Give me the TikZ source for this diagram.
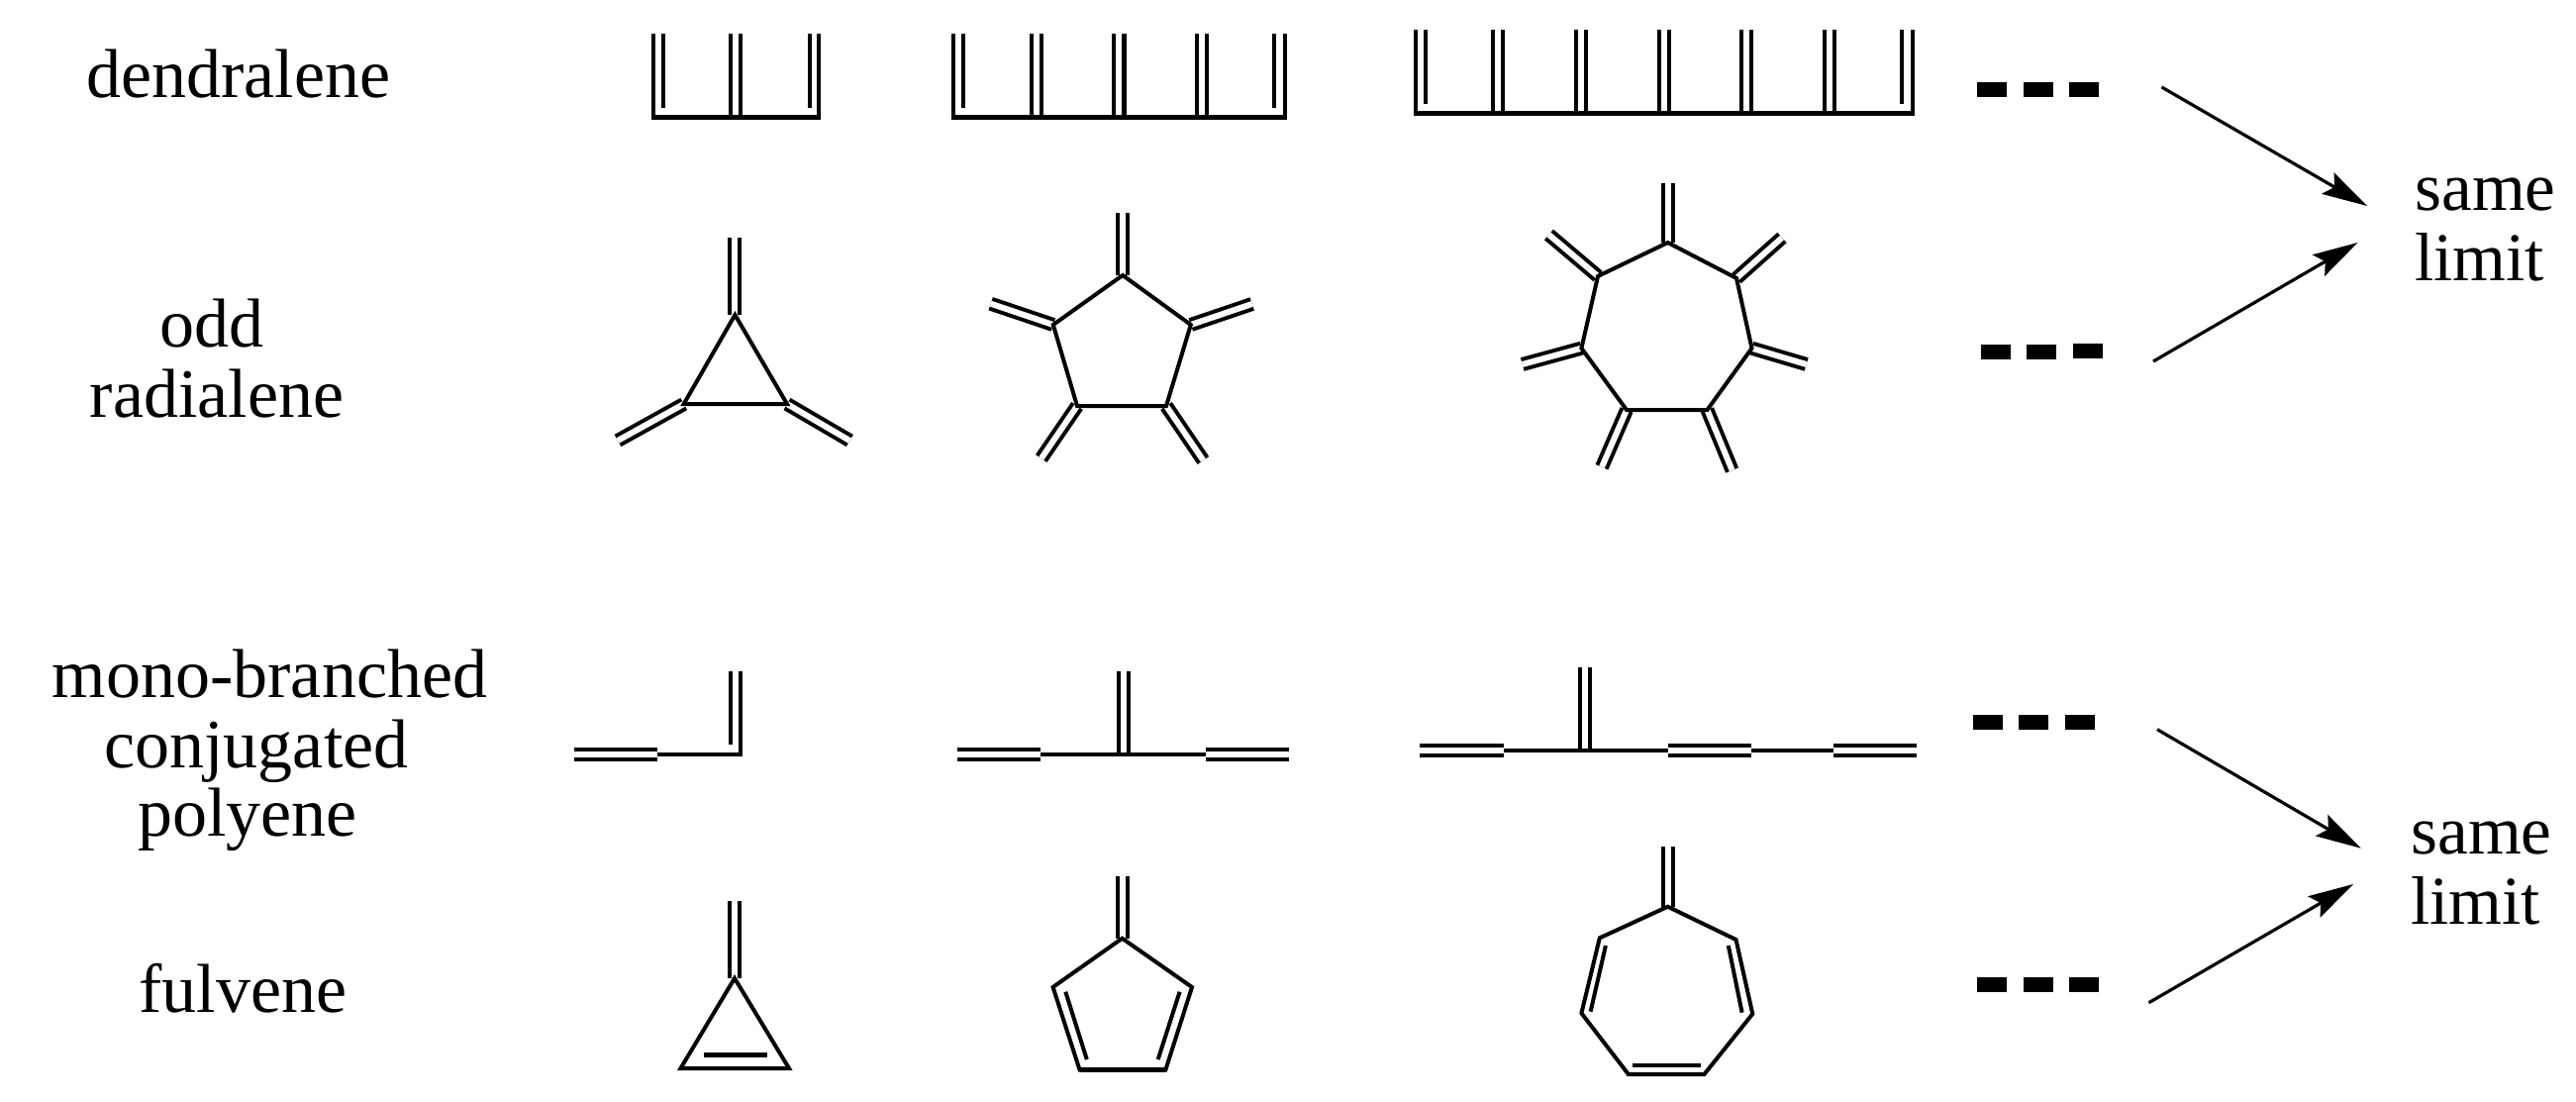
\documentclass[tikz,border=0pt]{standalone}
\usepackage{fontspec}
\setmainfont{Liberation Serif}
\usetikzlibrary{arrows.meta}
\tikzset{
  bond/.style={line width=2pt,line join=miter},
  base/.style={line width=2.4pt,line join=miter},
  dbl/.style={double,double distance=3pt,line width=2pt},
  dbh/.style={double,double distance=3pt,line width=2.3pt},
  lab/.style={anchor=base,inner sep=0pt,font=\fontsize{35}{35}\selectfont},
  lim/.style={anchor=base west,inner sep=0pt,font=\fontsize{34.6}{35}\selectfont},
  dot/.style={fill=black,draw=none,inner sep=0pt,minimum width=15pt,minimum height=7.5pt},
  arr/.style={line width=1.6pt,-{Stealth[length=23pt,width=12.5pt,inset=4pt,line width=0pt]}}
}
\begin{document}
\begin{tikzpicture}[x=0.5pt,y=-0.5pt]
\useasboundingbox (0,0) rectangle (2602,1113);
% labels
\node[lab] (l1) at (241,98) {dendralene};
\node[lab] (l2a) at (214,350) {odd};
\node[lab] (l2b) at (219,421) {radialene};
\node[lab] (l3a) at (272.5,704) {mono-branched};
\node[lab] (l3b) at (259,775) {conjugated};
\node[lab] (l3c) at (250,844) {polyene};
\node[lab] (l4) at (245.5,1022) {fulvene};
\node[lim] (s1a) at (2439,213) {same};
\node[lim] (s1b) at (2439,283) {limit};
\node[lim] (s2a) at (2435,862) {same};
\node[lim] (s2b) at (2435,933) {limit};
% dots
\foreach \n/\x/\y in {a/2012/90.5,b/2059/90.5,c/2105/90.5,d/2016/355,e/2062/355,f/2109/354,g/2007.5/729,h/2054/729,i/2100.5/729,j/2012/994,k/2059/994,m/2105/994}
  \node[dot] (dot\n) at (\x,\y) {};
% arrows
\coordinate (a1s) at (2183.5,88); \coordinate (a1e) at (2391,208);
\coordinate (a2s) at (2175,365); \coordinate (a2e) at (2381.6,245);
\coordinate (a3s) at (2179,736.7); \coordinate (a3e) at (2384.7,856.7);
\coordinate (a4s) at (2170.5,1012.7); \coordinate (a4e) at (2377,893);
\draw[arr] (a1s) -- (a1e);
\draw[arr] (a2s) -- (a2e);
\draw[arr] (a3s) -- (a3e);
\draw[arr] (a4s) -- (a4e);
% dendralene 1
\foreach \x in {743} \draw[dbl] (\x,34) -- (\x,118);
\draw[bond] (660,34) -- (660,118.3) -- (827,118.3) -- (827,34);
\draw[base] (658,118.3) -- (829,118.3);
\draw[bond] (669.5,34) -- (669.5,108.7);
\draw[bond] (817.6,34) -- (817.6,108.7);
% dendralene 2
\foreach \x in {1047.3,1214.3} \draw[dbl] (\x,34) -- (\x,118);
\draw[dbh] (1130.3,34) -- (1130.3,118);
\draw[bond] (963,34) -- (963,118.3) -- (1298,118.3) -- (1298,34);
\draw[base] (961,118.3) -- (1300,118.3);
\draw[bond] (973,34) -- (973,108.7);
\draw[bond] (1286.6,34) -- (1286.6,108.7);
% dendralene 3
\foreach \x in {1513.3,1597,1680.7,1763.8,1847.6} \draw[dbl] (\x,30) -- (\x,114);
\draw[bond] (1430,30) -- (1430,114.7) -- (1932,114.7) -- (1932,30);
\draw[base] (1428,114.7) -- (1934,114.7);
\draw[bond] (1440,30) -- (1440,104.7);
\draw[bond] (1921,30) -- (1921,104.7);
% triradialene
\coordinate (t1) at (742.4,318); \coordinate (t2) at (795,408); \coordinate (t3) at (690.7,408);
\coordinate (t1x) at (742.4,240); \coordinate (t2x) at (858.3,445); \coordinate (t3x) at (624,445);
\foreach \i in {1,2,3} \draw[dbl] (t\i) -- (t\i x);
\draw[bond] (t1) -- (t2) -- (t3) -- cycle;
\draw[base] (t2) -- (t3);
% pentaradialene
\coordinate (p1) at (1134,278); \coordinate (p2) at (1202.8,328); \coordinate (p3) at (1178,410); \coordinate (p4) at (1088,410); \coordinate (p5) at (1063.8,328);
\coordinate (p1x) at (1134,215); \coordinate (p2x) at (1264.7,307); \coordinate (p3x) at (1215.4,465); \coordinate (p4x) at (1051.8,463); \coordinate (p5x) at (1000.7,306.7);
\foreach \i in {1,...,5} \draw[dbl] (p\i) -- (p\i x);
\draw[bond] (p1) -- (p2) -- (p3) -- (p4) -- (p5) -- cycle;
\draw[base] (p3) -- (p4);
% heptaradialene
\coordinate (h1) at (1684.6,245); \coordinate (h2) at (1754,281); \coordinate (h3) at (1769.5,351.7); \coordinate (h4) at (1724.4,414); \coordinate (h5) at (1643,414); \coordinate (h6) at (1597.4,351.7); \coordinate (h7) at (1614,279);
\coordinate (h1x) at (1684.6,185); \coordinate (h2x) at (1800,240); \coordinate (h3x) at (1824.6,368); \coordinate (h4x) at (1749.6,475); \coordinate (h5x) at (1618,471.7); \coordinate (h6x) at (1537.7,368); \coordinate (h7x) at (1564.5,237);
\foreach \i in {1,...,7} \draw[dbl] (h\i) -- (h\i x);
\draw[bond] (h1) -- (h2) -- (h3) -- (h4) -- (h5) -- (h6) -- (h7) -- cycle;
\draw[base] (h4) -- (h5);
% mono-branched 1
\draw[dbl] (580,762) -- (664,762);
\draw[bond] (664,762) -- (747.8,762) -- (747.8,678);
\draw[bond] (738,678) -- (738,751.7);
% mono-branched 2
\draw[dbl] (967,762) -- (1051,762);
\draw[dbl] (1218,762) -- (1302,762);
\draw[dbl] (1134.7,678) -- (1134.7,762);
\draw[bond] (1051,762) -- (1218,762);
% mono-branched 3
\draw[dbl] (1433.7,757.7) -- (1518.6,757.7);
\draw[dbl] (1684.6,757.7) -- (1768.8,757.7);
\draw[dbl] (1852,757.7) -- (1935.6,757.7);
\draw[dbl] (1601,674) -- (1601,757.7);
\draw[bond] (1518.6,757.7) -- (1684.6,757.7);
\draw[bond] (1768.8,757.7) -- (1852,757.7);
% fulvene 1
\coordinate (f1) at (742,988); \coordinate (f2) at (797,1079); \coordinate (f3) at (687.5,1079); \coordinate (f1x) at (742,910);
\draw[dbl] (f1) -- (f1x);
\draw[bond] (f1) -- (f2) -- (f3) -- cycle;
\draw[base] (f2) -- (f3);
\draw[base] (711,1065.3) -- (774.8,1065.3);
% fulvene 2
\coordinate (g1) at (1133.5,947.7); \coordinate (g2) at (1204,997); \coordinate (g3) at (1177.3,1080.7); \coordinate (g4) at (1090.6,1080.7); \coordinate (g5) at (1063.6,997); \coordinate (g1x) at (1133.5,885);
\draw[dbl] (g1) -- (g1x);
\draw[bond] (g1) -- (g2) -- (g3) -- (g4) -- (g5) -- cycle;
\draw[base] (g3) -- (g4);
\draw[bond] (1076.3,1001.7) -- (1097.8,1070);
\draw[bond] (1191.6,1001.7) -- (1169.7,1070);
% fulvene 3
\coordinate (k1) at (1684.6,915.7); \coordinate (k2) at (1753.5,949); \coordinate (k3) at (1770.3,1024); \coordinate (k4) at (1721.4,1085); \coordinate (k5) at (1644.8,1085); \coordinate (k6) at (1597.4,1023.3); \coordinate (k7) at (1615.8,947.3); \coordinate (k1x) at (1684.6,855);
\draw[dbl] (k1) -- (k1x);
\draw[bond] (k1) -- (k2) -- (k3) -- (k4) -- (k5) -- (k6) -- (k7) -- cycle;
\draw[base] (k4) -- (k5);
\draw[bond] (1621.9,955) -- (1606.6,1021.7);
\draw[bond] (1745.8,955) -- (1759.6,1022.7);
\draw[base] (1649.4,1076) -- (1717.5,1076);
\end{tikzpicture}
\end{document}
